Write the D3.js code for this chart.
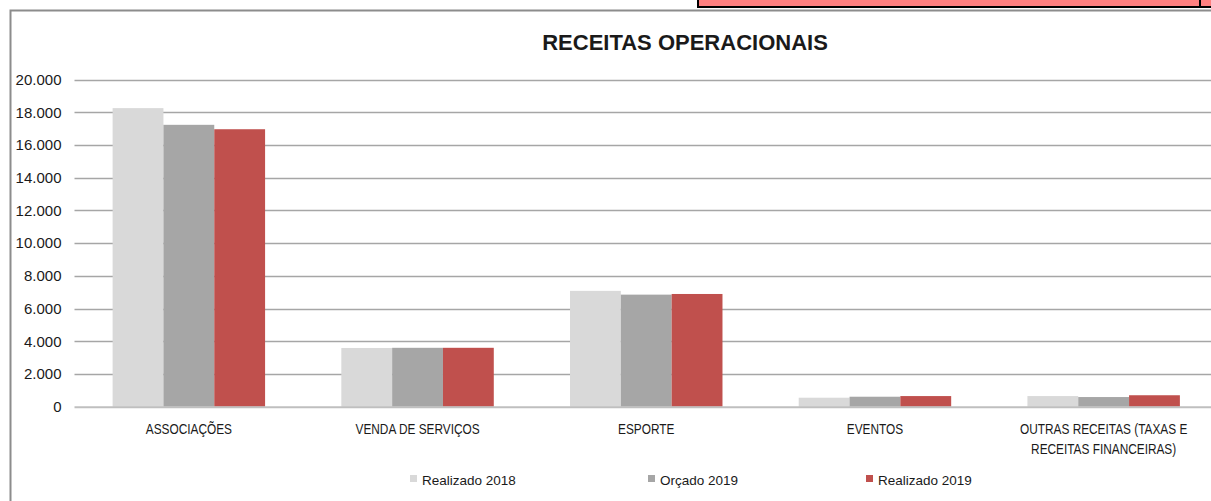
<!DOCTYPE html>
<html><head><meta charset="utf-8">
<script src="https://cdn.jsdelivr.net/npm/d3@7"></script>
<style>
html,body{margin:0;padding:0;background:#fff;overflow:hidden;}
svg{display:block;}
text{font-family:"Liberation Sans",Arial,sans-serif;fill:#1a1a1a;}
</style></head>
<body>
<svg id="c" width="1211" height="501"></svg>
<script>
const categories = [["ASSOCIAÇÕES"],["VENDA DE SERVIÇOS"],["ESPORTE"],["EVENTOS"],["OUTRAS RECEITAS (TAXAS E","RECEITAS FINANCEIRAS)"]];
const seriesNames = ["Realizado 2018","Orçado 2019","Realizado 2019"];
const realizado2018 = [18250, 3590, 7080, 550, 650];
const orcado2019 = [17230, 3600, 6850, 610, 590];
const realizado2019 = [16960, 3600, 6890, 650, 700];
const yTicks = [0,2000,4000,6000,8000,10000,12000,14000,16000,18000,20000];
const title = "RECEITAS OPERACIONAIS";
const colors = ["#d9d9d9","#a6a6a6","#c0504d"];

const series = [realizado2018, orcado2019, realizado2019];
const svg = d3.select("#c");

// outer chart frame
svg.append("path").attr("d","M10.5,501 V10.5 H1211").attr("fill","none").attr("stroke","#8c8c8c").attr("stroke-width",2);

// top-right cell fragment
svg.append("rect").attr("x",698).attr("y",0).attr("width",513).attr("height",8).attr("fill","#ff8080");
svg.append("line").attr("x1",698).attr("x2",1211).attr("y1",7).attr("y2",7).attr("stroke","#000").attr("stroke-width",2);
svg.append("line").attr("x1",698).attr("x2",698).attr("y1",0).attr("y2",8).attr("stroke","#000").attr("stroke-width",2);
svg.append("line").attr("x1",1200).attr("x2",1200).attr("y1",0).attr("y2",8).attr("stroke","#000").attr("stroke-width",2);

const x0 = 74.5, x1 = 1218;
const y = d3.scaleLinear().domain([0,20000]).range([406.7,79.5]);
const x = d3.scaleBand().domain(d3.range(categories.length)).range([x0,x1]).padding(0);
const barW = x.bandwidth()/4.5;
const xs = d3.scaleBand().domain(d3.range(3)).range([0, barW*3]).padding(0);

// y axis labels
const yAxis = d3.axisLeft(y).tickValues(yTicks).tickSize(0).tickPadding(13)
  .tickFormat(d => d3.format(",")(d).replace(/,/g,"."));
const gy = svg.append("g").attr("transform",`translate(${x0},0)`).call(yAxis);
gy.select(".domain").remove();
gy.selectAll("text").attr("font-size",15).style("font-family","'Liberation Sans',Arial,sans-serif").attr("fill","#1a1a1a");
// gridlines
svg.append("g").selectAll("line").data(yTicks.filter(d=>d>0)).join("line")
  .attr("x1",x0).attr("x2",x1).attr("y1",d=>Math.round(y(d))+0.5).attr("y2",d=>Math.round(y(d))+0.5)
  .attr("stroke","#a6a6a6").attr("stroke-width",1.5);

// bars
const g = svg.append("g");
categories.forEach((c,i)=>{
  const gx = x(i) + (x.bandwidth()-barW*3)/2;
  series.forEach((s,j)=>{
    g.append("rect").attr("x",gx+xs(j)).attr("width",xs.bandwidth())
      .attr("y",y(s[i])).attr("height",y(0)-y(s[i])).attr("fill",colors[j]);
  });
});

// zero axis
svg.append("line").attr("x1",x0).attr("x2",x1).attr("y1",y(0)+0.5).attr("y2",y(0)+0.5).attr("stroke","#bfbfbf").attr("stroke-width",2);

// category labels (condensed like Calibri)
categories.forEach((c,i)=>{
  const cx = x(i)+x.bandwidth()/2;
  const t = svg.append("text").attr("text-anchor","middle").attr("font-size",15)
    .attr("transform",`translate(${cx},0) scale(0.79,1)`);
  c.forEach((line,k)=>{
    t.append("tspan").attr("x",0).attr("y",434.5+k*19.5).text(line);
  });
});

// title
svg.append("text").attr("x",685).attr("y",50).attr("text-anchor","middle")
  .attr("font-size",22).attr("font-weight","bold").attr("fill","#000").text(title);

// legend
const legX = [410, 648, 866];
seriesNames.forEach((n,j)=>{
  svg.append("rect").attr("x",legX[j]).attr("y",475).attr("width",7).attr("height",7).attr("fill",colors[j]);
  svg.append("text").attr("x",legX[j]+12).attr("y",484.5).attr("font-size",13.5).text(n);
});
</script>
</body></html>
